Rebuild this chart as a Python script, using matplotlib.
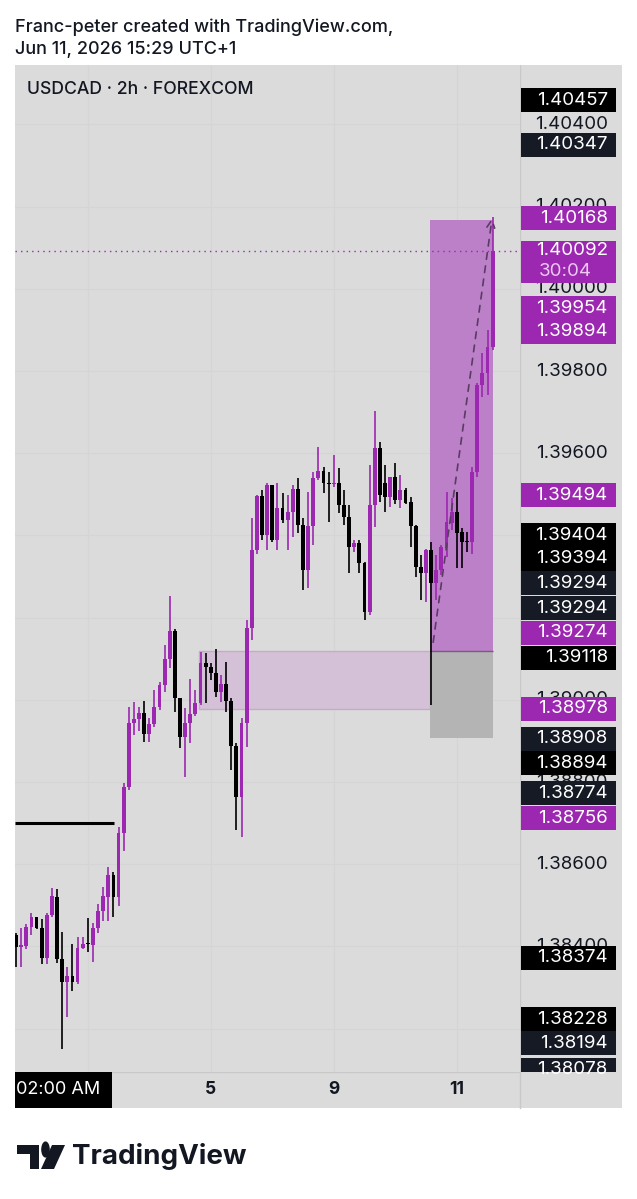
import matplotlib
matplotlib.use('Agg')
import matplotlib.pyplot as plt
from matplotlib.patches import Rectangle, Circle, Polygon

plt.rcParams['font.family'] = ['Inter', 'DejaVu Sans']

# --- chart data (USDCAD, 2h candles) ---
opens = [1.38428, 1.38399, 1.38401, 1.38447, 1.38472, 1.38445, 1.38372, 1.38476, 1.38520, 1.38369,
         1.38313, 1.38328, 1.38313, 1.38396, 1.38408, 1.38403, 1.38445, 1.38486, 1.38520, 1.38574,
         1.38520, 1.38676, 1.38788, 1.38944, 1.38953, 1.38968, 1.38917, 1.38941, 1.38983, 1.39036,
         1.39099, 1.39167, 1.39004, 1.38910, 1.38944, 1.38966, 1.38992, 1.39090, 1.39080, 1.39065,
         1.39019, 1.39038, 1.38997, 1.38888, 1.38764, 1.38944, 1.39175, 1.39365, 1.39496, 1.39401,
         1.39523, 1.39389, 1.39467, 1.39437, 1.39457, 1.39513, 1.39425, 1.39316, 1.39423, 1.39540,
         1.39557, 1.39528, 1.39525, 1.39528, 1.39474, 1.39445, 1.39372, 1.39382, 1.39333, 1.39214,
         1.39474, 1.39613, 1.39528, 1.39493, 1.39542, 1.39486, 1.39510, 1.39481, 1.39423, 1.39323,
         1.39309, 1.39365, 1.39284, 1.39316, 1.39369, 1.39430, 1.39457, 1.39408, 1.39386, 1.39384,
         1.39554, 1.39766, 1.39795, 1.39858]
highs = [1.38433, 1.38445, 1.38455, 1.38481, 1.38472, 1.38467, 1.38481, 1.38542, 1.38540, 1.38435,
         1.38350, 1.38406, 1.38423, 1.38423, 1.38469, 1.38457, 1.38503, 1.38545, 1.38593, 1.38581,
         1.38691, 1.38798, 1.38983, 1.38995, 1.38983, 1.38997, 1.38956, 1.39024, 1.39043, 1.39133,
         1.39253, 1.39172, 1.39004, 1.38980, 1.39051, 1.39024, 1.39116, 1.39114, 1.39090, 1.39124,
         1.39060, 1.39092, 1.39004, 1.38895, 1.38956, 1.39194, 1.39442, 1.39498, 1.39510, 1.39528,
         1.39523, 1.39528, 1.39503, 1.39498, 1.39523, 1.39540, 1.39442, 1.39506, 1.39554, 1.39615,
         1.39566, 1.39554, 1.39596, 1.39564, 1.39510, 1.39474, 1.39389, 1.39389, 1.39335, 1.39571,
         1.39703, 1.39627, 1.39571, 1.39542, 1.39576, 1.39547, 1.39515, 1.39493, 1.39425, 1.39352,
         1.39367, 1.39384, 1.39352, 1.39377, 1.39506, 1.39491, 1.39506, 1.39418, 1.39408, 1.39566,
         1.39771, 1.39844, 1.39900, 1.40175]
lows = [1.38350, 1.38350, 1.38394, 1.38428, 1.38442, 1.38357, 1.38357, 1.38472, 1.38360, 1.38150,
        1.38228, 1.38292, 1.38309, 1.38394, 1.38386, 1.38362, 1.38433, 1.38462, 1.38462, 1.38472,
        1.38498, 1.38632, 1.38781, 1.38914, 1.38924, 1.38897, 1.38897, 1.38934, 1.38975, 1.39019,
        1.39077, 1.38970, 1.38883, 1.38812, 1.38895, 1.38961, 1.38987, 1.38992, 1.39048, 1.39007,
        1.38995, 1.38970, 1.38829, 1.38683, 1.38666, 1.38885, 1.39146, 1.39355, 1.39389, 1.39365,
        1.39384, 1.39365, 1.39430, 1.39365, 1.39396, 1.39406, 1.39267, 1.39272, 1.39377, 1.39535,
        1.39503, 1.39433, 1.39518, 1.39455, 1.39425, 1.39309, 1.39360, 1.39309, 1.39194, 1.39206,
        1.39420, 1.39481, 1.39457, 1.39469, 1.39476, 1.39467, 1.39476, 1.39372, 1.39299, 1.39243,
        1.39238, 1.38987, 1.39243, 1.39304, 1.39347, 1.39413, 1.39321, 1.39321, 1.39360, 1.39355,
        1.39542, 1.39737, 1.39742, 1.39851]
closes = [1.38399, 1.38403, 1.38447, 1.38472, 1.38445, 1.38372, 1.38476, 1.38523, 1.38369, 1.38313,
          1.38328, 1.38313, 1.38396, 1.38406, 1.38406, 1.38445, 1.38486, 1.38523, 1.38574, 1.38520,
          1.38676, 1.38788, 1.38944, 1.38953, 1.38968, 1.38917, 1.38941, 1.38983, 1.39036, 1.39099,
          1.39167, 1.39004, 1.38910, 1.38944, 1.38966, 1.38992, 1.39090, 1.39080, 1.39065, 1.39019,
          1.39038, 1.38997, 1.38888, 1.38764, 1.38944, 1.39175, 1.39365, 1.39496, 1.39401, 1.39523,
          1.39389, 1.39467, 1.39437, 1.39457, 1.39513, 1.39425, 1.39316, 1.39423, 1.39540, 1.39557,
          1.39528, 1.39525, 1.39528, 1.39474, 1.39445, 1.39372, 1.39382, 1.39333, 1.39214, 1.39474,
          1.39613, 1.39498, 1.39493, 1.39542, 1.39486, 1.39510, 1.39479, 1.39423, 1.39323, 1.39309,
          1.39365, 1.39284, 1.39316, 1.39372, 1.39433, 1.39457, 1.39406, 1.39384, 1.39384, 1.39554,
          1.39766, 1.39795, 1.39858, 1.40092]

day_ticks = [14, 38, 62, 86]
day_labels = ['', '5', '9', '11']          # "3" sits under the crosshair label
price_ticks = [1.382, 1.384, 1.386, 1.388, 1.390, 1.392, 1.394, 1.396, 1.398, 1.400, 1.402, 1.404]
shown_ticks = [1.384, 1.386, 1.388, 1.390, 1.396, 1.398, 1.400, 1.402, 1.404]

# drawings
level_price = 1.38700
level_end = 19.1
zone_start, zone_end = 35.7, 80.8
zone_low, zone_high = 1.38978, 1.39118
pos_start, pos_end = 80.8, 93.1
entry, target, stop = 1.39118, 1.40168, 1.38908
last_price = 1.40092
path_from = (81.4, 1.39140)
path_to = (92.9, 1.40172)

# price scale labels: text, shown at, colour
scale_labels = ['1.40457', '1.40347', '1.40168', '1.39954', '1.39894', '1.39494', '1.39404',
                '1.39394', '1.39294', '1.39294', '1.39274', '1.39118', '1.38978', '1.38908',
                '1.38894', '1.38774', '1.38756', '1.38374', '1.38228', '1.38194', '1.38078']
scale_pos = [1.40459, 1.40350, 1.40172, 1.39953, 1.39895, 1.39498, 1.39401,
             1.39343, 1.39284, 1.39223, 1.39163, 1.39102, 1.38978, 1.38905,
             1.38846, 1.38773, 1.38712, 1.38372, 1.38223, 1.38165, 1.38100]
scale_kind = ['k', 'n', 'p', 'p', 'p', 'p', 'k',
              'k', 'n', 'n', 'p', 'k', 'p', 'n',
              'k', 'n', 'p', 'k', 'k', 'n', 'n']

PURPLE = '#9c27b0'
BG = '#dbdbdb'
GRID = '#d5d5d5'
TXT = '#131722'
kind_col = {'k': '#000000', 'n': '#161a25', 'p': PURPLE}

W, H = 637, 1199
def fx(px):
    return px / W
def fy(py):
    return 1 - py / H

fig = plt.figure(figsize=(W / 100, H / 100), dpi=100)
fig.patch.set_facecolor('white')
fig.add_artist(Rectangle((fx(15), fy(1108)), fx(622) - fx(15), fy(65) - fy(1108),
                         transform=fig.transFigure, facecolor=BG, edgecolor='none', zorder=0))

ymin, ymax = 1.380945, 1.405445
xmin, xmax = -0.2, 98.34

# main pane
ax = fig.add_axes([fx(15), fy(1072), fx(520) - fx(15), fy(65) - fy(1072)])
ax.set_facecolor(BG)
ax.set_xlim(xmin, xmax)
ax.set_ylim(ymin, ymax)
ax.set_xticks(day_ticks)
ax.set_yticks(price_ticks)
ax.grid(True, color=GRID, lw=0.8)
ax.tick_params(length=0, labelbottom=False, labelleft=False)
for s in ax.spines.values():
    s.set_visible(False)

# zone + position tool
ax.add_patch(Rectangle((zone_start, zone_low), zone_end - zone_start, zone_high - zone_low,
                       facecolor='#d4c1d7', edgecolor='#c7a9cc', lw=1, zorder=2))
ax.add_patch(Rectangle((pos_start, entry), pos_end - pos_start, target - entry,
                       facecolor='#bb80c8', edgecolor='none', zorder=2))
ax.add_patch(Rectangle((pos_start, stop), pos_end - pos_start, entry - stop,
                       facecolor='#b4b4b4', edgecolor='none', zorder=2))
ax.hlines(entry, pos_start, pos_end, color='#7a5a80', lw=1, zorder=2)

# candles
idx = list(range(len(opens)))
cols = [PURPLE if c >= o else '#000000' for o, c in zip(opens, closes)]
ax.vlines(idx, lows, highs, colors=cols, lw=1.2, zorder=4)
bottoms = [min(o, c) for o, c in zip(opens, closes)]
heights = [max(abs(c - o), 0.00003) for o, c in zip(opens, closes)]
ax.bar(idx, heights, bottom=bottoms, width=0.74, color=cols, zorder=4)

ax.hlines(level_price, xmin, level_end, color='black', lw=2.2, zorder=3)
ax.axhline(last_price, color=PURPLE, ls=(0, (1, 3)), lw=1, zorder=3)
ax.annotate('', xy=path_to, xytext=path_from,
            arrowprops=dict(arrowstyle='->', ls=(0, (4, 4)), color='#5b3b63', lw=1.2,
                            shrinkA=0, shrinkB=0, mutation_scale=14), zorder=5)

# price scale
axp = fig.add_axes([fx(520), fy(1072), fx(622) - fx(520), fy(65) - fy(1072)], sharey=ax)
axp.set_facecolor(BG)
axp.set_xlim(0, 1)
axp.tick_params(left=False, labelleft=False, bottom=False, labelbottom=False)
for s in axp.spines.values():
    s.set_visible(False)
axp.axvline(0, color='#c9c9c9', lw=1)
box_h = 0.000584
fs = 13.5
for v in shown_ticks:
    axp.text(0.86, v, f'{v:.5f}', ha='right', va='center', fontsize=fs, color=TXT, zorder=1)
for t, p, k in zip(scale_labels, scale_pos, scale_kind):
    axp.add_patch(Rectangle((0.01, p - box_h / 2), 0.93, box_h, facecolor=kind_col[k],
                            edgecolor='none', zorder=3))
    axp.text(0.86, p, t, ha='right', va='center', fontsize=fs, color='white', zorder=4)
# last price box with countdown
lp_top, lp_bot = 1.40116, 1.40014
axp.add_patch(Rectangle((0.01, lp_bot), 0.93, lp_top - lp_bot, facecolor=PURPLE,
                        edgecolor='none', zorder=3))
axp.text(0.86, last_price, f'{last_price:.5f}', ha='right', va='center', fontsize=fs,
         color='white', zorder=4)
axp.text(0.18, 1.40043, '30:04', ha='left', va='center', fontsize=fs,
         color='#ecc9f2', zorder=4)

# time scale
axt = fig.add_axes([fx(15), fy(1108), fx(520) - fx(15), fy(1072) - fy(1108)], sharex=ax)
axt.set_facecolor(BG)
axt.set_ylim(0, 1)
axt.tick_params(left=False, labelleft=False, bottom=False, labelbottom=False)
for s in axt.spines.values():
    s.set_visible(False)
axt.axhline(1, color='#c9c9c9', lw=1)
for d, lab in zip(day_ticks, day_labels):
    if lab:
        axt.text(d, 0.5, lab, ha='center', va='center', fontsize=12.5, fontweight='bold', color=TXT)
axt.add_patch(Rectangle((xmin, 0), 18.7 - xmin, 1, facecolor='black', edgecolor='none', zorder=3))
axt.text(xmin + 0.1, 0.5, '02:00 AM', ha='left', va='center', fontsize=13, color='white', zorder=4)
fig.add_artist(plt.Line2D([fx(520), fx(520)], [fy(1108), fy(1072)], transform=fig.transFigure,
                          color='#c9c9c9', lw=1))

# header
fig.text(fx(15), fy(27), 'Franc-peter created with TradingView.com,', fontsize=13, color=TXT,
         va='center', fontweight='medium')
fig.text(fx(15), fy(50), 'Jun 11, 2026 15:29 UTC+1', fontsize=13, color=TXT, va='center',
         fontweight='medium')
fig.text(fx(27), fy(90), 'USDCAD · 2h · FOREXCOM', fontsize=12.7, color=TXT, va='center',
         fontweight='medium')

# footer logo
logo = '#131722'
fig.add_artist(Polygon([(fx(17), fy(1145)), (fx(39), fy(1145)), (fx(39), fy(1169)), (fx(30), fy(1169)),
                        (fx(30), fy(1154)), (fx(17), fy(1154))], closed=True, transform=fig.transFigure,
                       facecolor=logo, edgecolor='none'))
fig.add_artist(Circle((fx(45.5), fy(1149.5)), 4.3 / W, transform=fig.transFigure, facecolor=logo))
fig.add_artist(Polygon([(fx(52), fy(1145)), (fx(65), fy(1145)), (fx(54), fy(1169)), (fx(41), fy(1169))],
                       closed=True, transform=fig.transFigure, facecolor=logo, edgecolor='none'))
fig.text(fx(72), fy(1156), 'TradingView', fontsize=20, fontweight='bold', color=logo, va='center')

fig.savefig('out.png', dpi=100, facecolor='white')
